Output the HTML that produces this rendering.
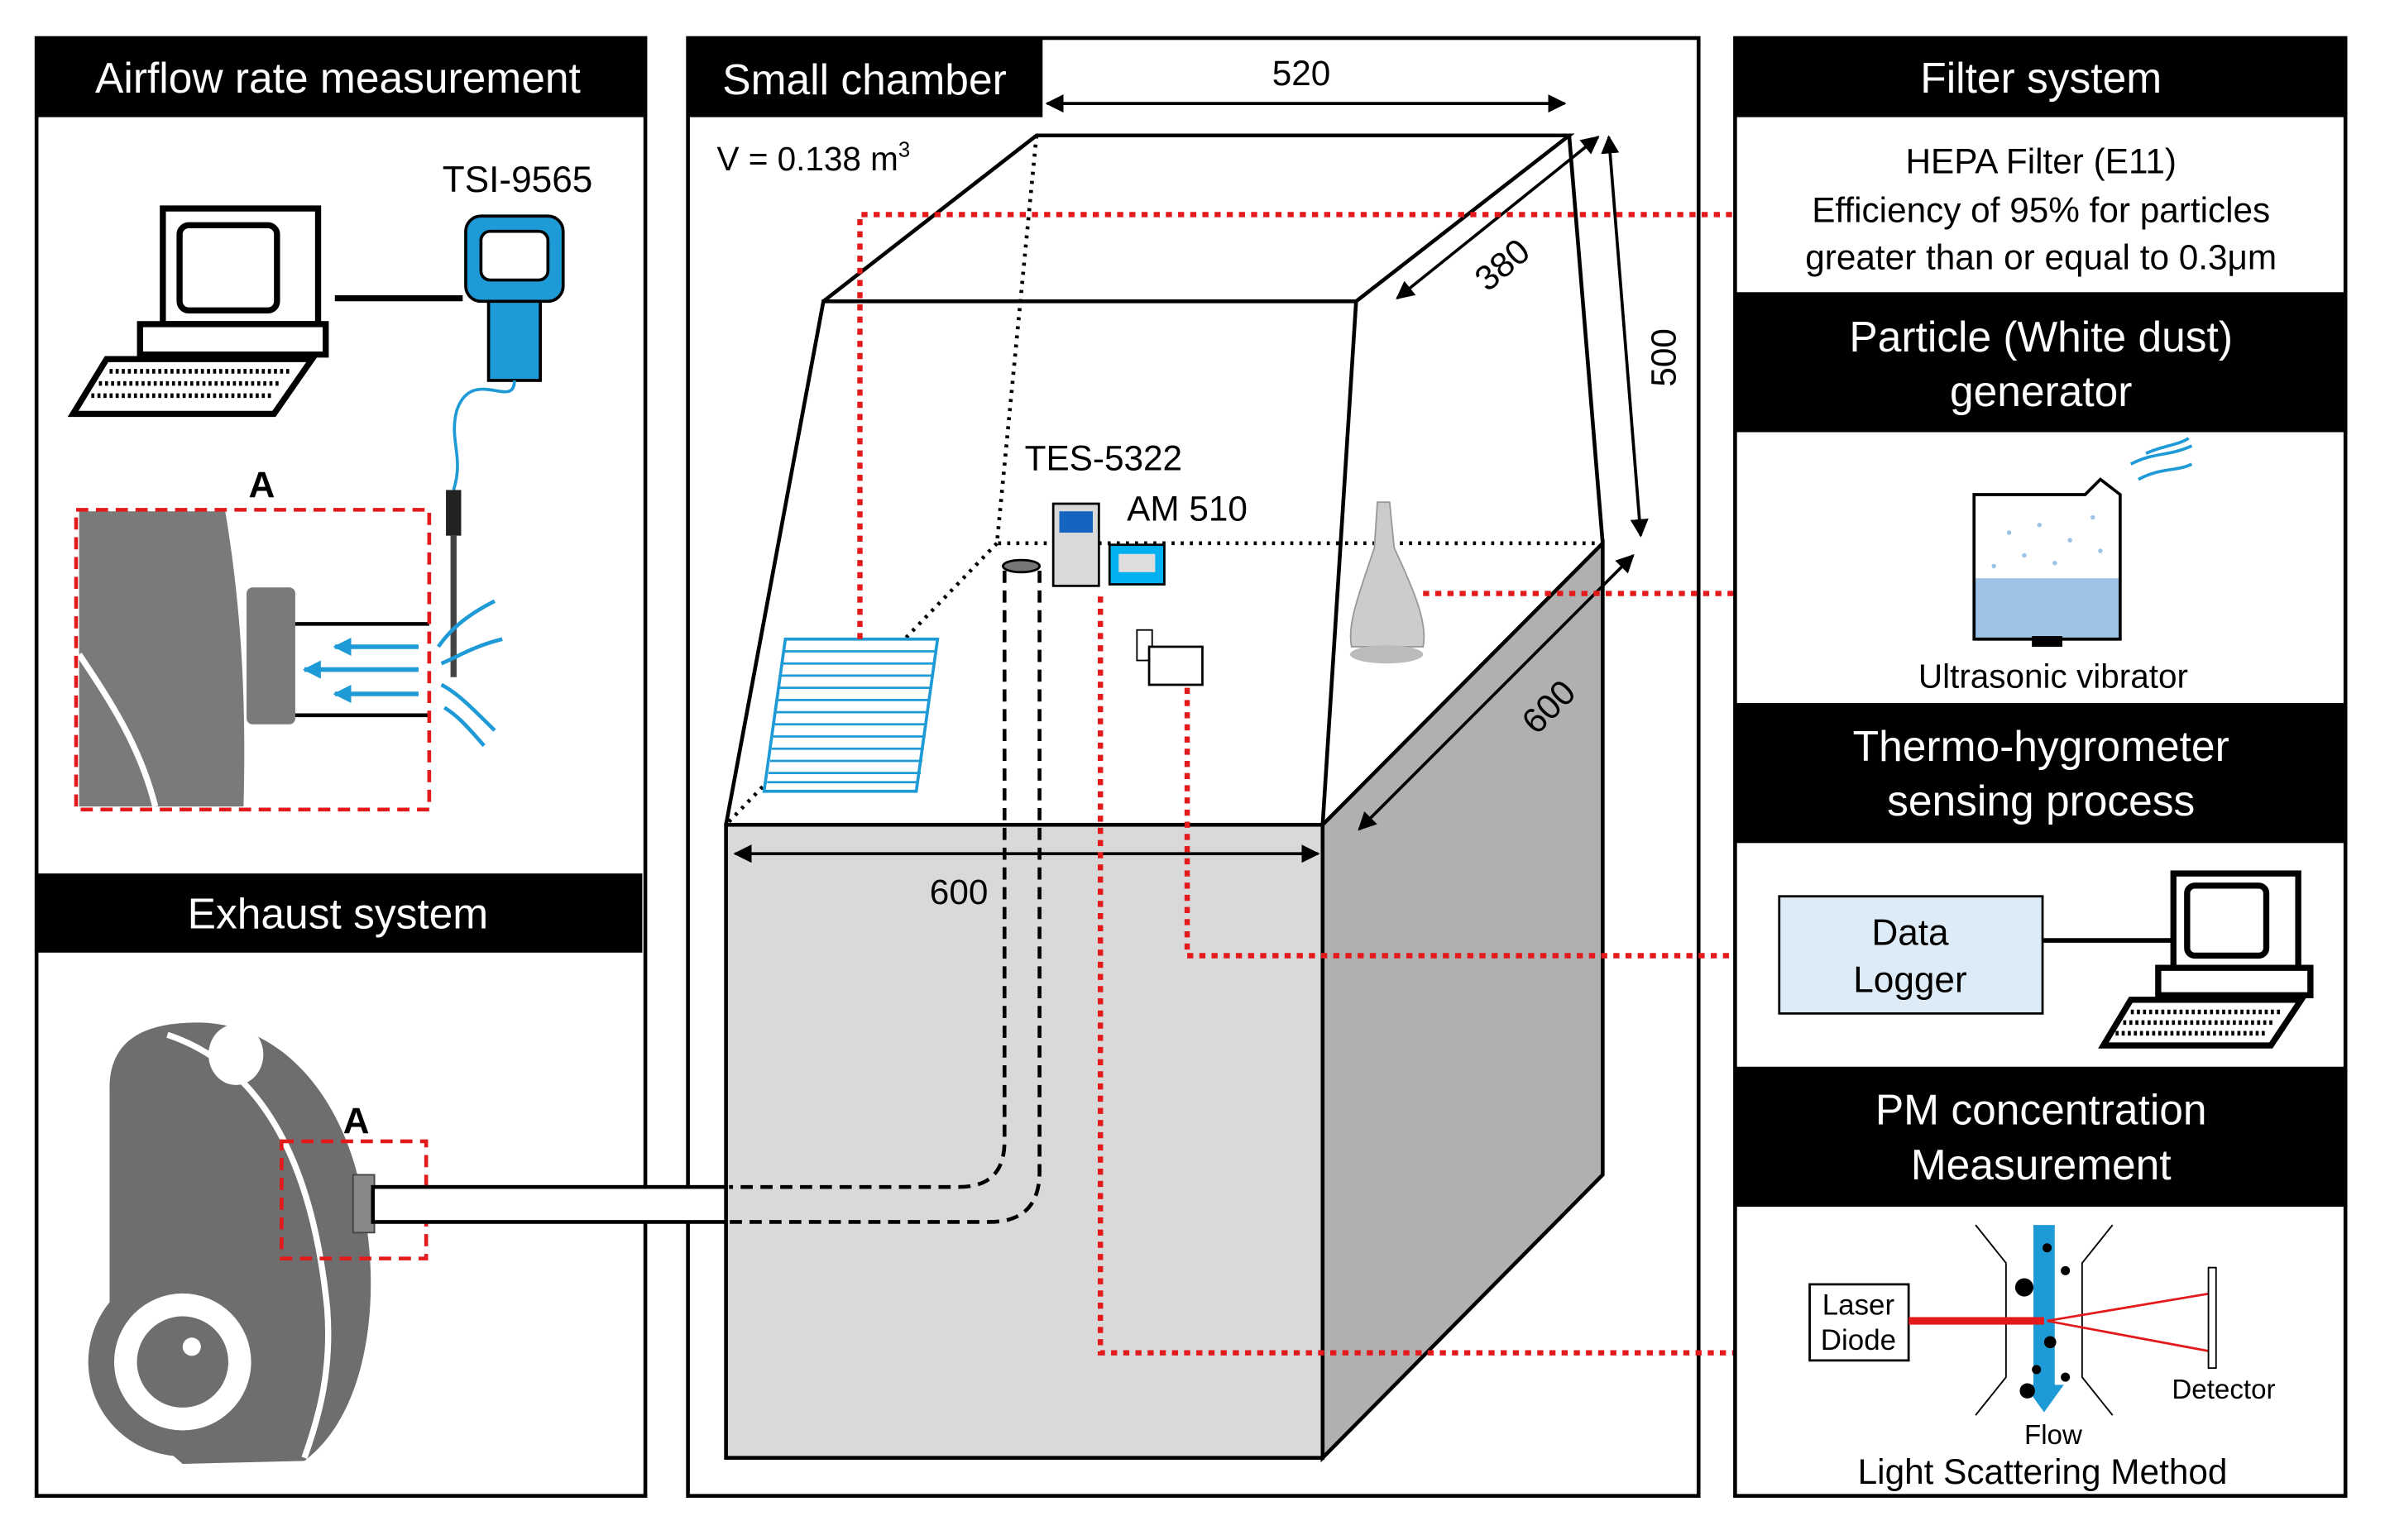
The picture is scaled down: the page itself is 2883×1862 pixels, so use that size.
<!DOCTYPE html>
<html><head><meta charset="utf-8"><style>
html,body{margin:0;padding:0;background:#fff}
svg{display:block}
text{font-family:"Liberation Sans",sans-serif}
</style></head><body>
<svg width="2883" height="1862" viewBox="0 0 1567 1012" preserveAspectRatio="none" xmlns="http://www.w3.org/2000/svg">
<defs>
<marker id="ar" viewBox="0 0 10 10" refX="9" refY="5" markerWidth="6" markerHeight="6" orient="auto-start-reverse"><path d="M0,0L10,5L0,10z" fill="#000"/></marker>
<marker id="ab" viewBox="0 0 10 10" refX="9" refY="5" markerWidth="4" markerHeight="4" orient="auto"><path d="M0,0L10,5L0,10z" fill="#1e9ad6"/></marker>
</defs>
<rect width="1567" height="1012" fill="#fff"/>
<!-- LEFT PANEL -->
<rect x="24" y="25" width="400" height="958" fill="#fff" stroke="#000" stroke-width="2.5"/>
<rect x="24" y="25" width="400" height="52" fill="#000"/>
<text x="222" y="61" font-size="28" fill="#fff" text-anchor="middle">Airflow rate measurement</text>
<rect x="24" y="574" width="398" height="52" fill="#000"/>
<text x="222" y="610" font-size="28" fill="#fff" text-anchor="middle">Exhaust system</text>
<!-- computer -->
<g stroke="#000" stroke-width="4" fill="#fff">
<rect x="107" y="137" width="102" height="76"/>
<rect x="118" y="148" width="64" height="56" rx="6"/>
<rect x="92" y="213" width="122" height="20"/>
<polygon points="70,236 205,236 180,272 48,272"/>
</g>
<path d="M72,244h120M65,252h120M60,260h120" stroke="#000" stroke-width="3" stroke-dasharray="2 2"/>
<line x1="220" y1="196" x2="304" y2="196" stroke="#000" stroke-width="4"/>
<text x="340" y="126" font-size="24" text-anchor="middle">TSI-9565</text>
<rect x="306" y="142" width="64" height="56" rx="10" fill="#1e9ad6" stroke="#000" stroke-width="2"/>
<rect x="316" y="152" width="44" height="32" rx="6" fill="#fff" stroke="#000" stroke-width="2"/>
<rect x="321" y="198" width="34" height="52" fill="#1e9ad6" stroke="#000" stroke-width="2"/>
<path d="M338,250 C338,270 310,240 300,270 C295,290 305,300 298,322" stroke="#1e9ad6" stroke-width="2" fill="none"/>
<rect x="293" y="322" width="10" height="30" fill="#222"/>
<line x1="298" y1="352" x2="298" y2="445" stroke="#444" stroke-width="4"/>
<text x="172" y="327" font-size="24" font-weight="bold" text-anchor="middle">A</text>
<path d="M52,336h96c10,60 14,120 12,194H52z" fill="#7a7a7a"/>
<path d="M52,430c20,30 40,60 50,100" stroke="#fff" stroke-width="4" fill="none"/>
<rect x="162" y="386" width="32" height="90" rx="4" fill="#7a7a7a"/>
<line x1="194" y1="410" x2="282" y2="410" stroke="#000" stroke-width="2.5"/>
<line x1="194" y1="470" x2="282" y2="470" stroke="#000" stroke-width="2.5"/>
<g stroke="#1e9ad6" stroke-width="3" marker-end="url(#ab)">
<line x1="275" y1="425" x2="220" y2="425"/><line x1="275" y1="440" x2="200" y2="440"/><line x1="275" y1="456" x2="220" y2="456"/>
</g>
<g stroke="#1e9ad6" stroke-width="2.5" fill="none">
<path d="M325,395 C305,405 295,415 288,425"/><path d="M330,420 C310,425 300,432 290,436"/><path d="M325,480 C310,465 300,455 290,450"/><path d="M318,490 C305,475 300,470 292,465"/>
</g>
<rect x="50" y="335" width="232" height="197" fill="none" stroke="#e31a1c" stroke-width="2.5" stroke-dasharray="8 5"/>
<!-- vacuum -->
<path d="M72,715 C72,680 100,672 130,672 C190,672 232,730 240,800 C250,860 240,930 200,960 L120,962 L72,920z" fill="#6e6e6e"/>
<path d="M110,680 C170,700 205,760 215,860 C218,900 210,930 200,958" stroke="#fff" stroke-width="4" fill="none"/>
<ellipse cx="155" cy="693" rx="18" ry="20" fill="#fff"/>
<circle cx="120" cy="895" r="62" fill="#6e6e6e"/>
<circle cx="120" cy="895" r="45" fill="#fff"/>
<circle cx="120" cy="895" r="30" fill="#6e6e6e"/>
<circle cx="126" cy="885" r="6" fill="#fff"/>
<rect x="232" y="772" width="14" height="38" fill="#888" stroke="#444"/>
<text x="234" y="745" font-size="24" font-weight="bold" text-anchor="middle">A</text>
<rect x="185" y="750" width="95" height="77" fill="none" stroke="#e31a1c" stroke-width="2.5" stroke-dasharray="8 5"/>
<!-- MIDDLE PANEL -->
<rect x="452" y="25" width="664" height="958" fill="#fff" stroke="#000" stroke-width="2.5"/>
<rect x="452" y="25" width="233" height="52" fill="#000"/>
<text x="568" y="62" font-size="28" fill="#fff" text-anchor="middle">Small chamber</text>
<text x="471" y="112" font-size="22">V = 0.138 m<tspan font-size="14" dy="-9">3</tspan></text>
<!-- tube -->
<rect x="245" y="780" width="234" height="23" fill="#fff" stroke="#000" stroke-width="2.5"/>
<!-- box -->
<rect x="477" y="542" width="392" height="416" fill="#d9d9d9" stroke="#000" stroke-width="2.5"/>
<polygon points="869,542 1053,357 1053,772 869,958" fill="#b0b0b0" stroke="#000" stroke-width="2.5"/>
<g stroke="#000" stroke-width="2.5" fill="none">
<path d="M477,542 L541,198 L891,198 L869,542"/>
<path d="M541,198 L681,89 L1031,89 L891,198"/>
<path d="M1031,89 L1053,357"/>
</g>
<g stroke="#000" stroke-width="2.5" stroke-dasharray="2 4" fill="none">
<path d="M681,89 L655,357 L1053,357"/><path d="M655,357 L477,542"/>
</g>
<!-- dashed inner tube -->
<g stroke="#000" stroke-width="2.5" stroke-dasharray="8 5" fill="none">
<path d="M660,375 V750 Q660,780 630,780 H479"/>
<path d="M683,375 V770 Q683,803 650,803 H479"/>
</g>
<ellipse cx="671" cy="372" rx="12" ry="4" fill="#777" stroke="#000" stroke-width="1.5"/>
<!-- dimension arrows -->
<g stroke="#000" stroke-width="2" marker-end="url(#ar)" marker-start="url(#ar)">
<line x1="688" y1="68" x2="1028" y2="68"/>
<line x1="1050" y1="90" x2="918" y2="196"/>
<line x1="1057" y1="90" x2="1078" y2="352"/>
<line x1="1073" y1="365" x2="893" y2="545"/>
<line x1="483" y1="561" x2="866" y2="561"/>
</g>
<text x="855" y="56" font-size="23" text-anchor="middle">520</text>
<text x="630" y="594" font-size="23" text-anchor="middle">600</text>
<text transform="translate(992,180) rotate(-40)" font-size="23" text-anchor="middle">380</text>
<text transform="translate(1101,235) rotate(-90)" font-size="23" text-anchor="middle">500</text>
<text transform="translate(1023,470) rotate(-45)" font-size="23" text-anchor="middle">600</text>
<!-- filter -->
<polygon points="516,420 616,420 602,520 502,520" fill="#fff" stroke="#1e9ad6" stroke-width="2"/>
<g stroke="#1e9ad6" stroke-width="1.5"><path d="M515,428h100M514,436h100M513,444h100M512,452h100M511,460h100M510,468h100M509,476h100M508,484h100M507,492h100M506,500h100M505,508h100M504,514h99"/></g>
<!-- instruments -->
<text x="725" y="309" font-size="23" text-anchor="middle">TES-5322</text>
<text x="780" y="342" font-size="23" text-anchor="middle">AM 510</text>
<rect x="692" y="331" width="30" height="54" fill="#d9d9d9" stroke="#000" stroke-width="1.5"/>
<rect x="696" y="336" width="22" height="14" fill="#1565c0"/>
<rect x="729" y="358" width="36" height="26" fill="#00b0f0" stroke="#000" stroke-width="1.5"/>
<rect x="735" y="364" width="24" height="12" fill="#ddd"/>
<rect x="747" y="414" width="10" height="20" fill="#fff" stroke="#000"/>
<rect x="755" y="425" width="35" height="25" fill="#fff" stroke="#000" stroke-width="1.5"/>
<!-- humidifier -->
<path d="M905,330 L913,330 L916,360 C930,390 938,410 935,425 L888,425 C885,410 893,390 903,360z" fill="#ccc" stroke="#999"/>
<ellipse cx="911" cy="430" rx="24" ry="6" fill="#bbb"/>
<!-- red dotted -->
<g stroke="#e31a1c" stroke-width="3.5" stroke-dasharray="4 4" fill="none">
<path d="M565,420 V141 H1140"/>
<path d="M935,390 H1140"/>
<path d="M780,452 V628 H1140"/>
<path d="M723,392 V889 H1140"/>
</g>
<!-- RIGHT PANEL -->
<rect x="1140" y="25" width="401" height="958" fill="#fff" stroke="#000" stroke-width="2.5"/>
<rect x="1140" y="25" width="401" height="52" fill="#000"/>
<text x="1341" y="61" font-size="28" fill="#fff" text-anchor="middle">Filter system</text>
<text x="1341" y="114" font-size="23" text-anchor="middle">HEPA Filter (E11)</text>
<text x="1341" y="146" font-size="23" text-anchor="middle">Efficiency of 95% for particles</text>
<text x="1341" y="177" font-size="23" text-anchor="middle">greater than or equal to 0.3μm</text>
<rect x="1140" y="192" width="401" height="92" fill="#000"/>
<text x="1341" y="231" font-size="28" fill="#fff" text-anchor="middle">Particle (White dust)</text>
<text x="1341" y="267" font-size="28" fill="#fff" text-anchor="middle">generator</text>
<rect x="1297" y="380" width="96" height="40" fill="#9dc3e6"/>
<path d="M1297,325 H1370 L1380,315 L1393,325 V420 H1297z" fill="none" stroke="#000" stroke-width="2"/>
<rect x="1335" y="418" width="20" height="7" fill="#000"/>
<g stroke="#1e9ad6" stroke-width="2" fill="none"><path d="M1400,305c15,-8 25,-5 40,-12M1405,315c15,-8 25,-5 35,-10M1410,298c10,-5 20,-5 28,-10"/></g>
<g fill="#9dc3e6"><circle cx="1320" cy="350" r="1.5"/><circle cx="1340" cy="345" r="1.5"/><circle cx="1360" cy="355" r="1.5"/><circle cx="1330" cy="365" r="1.5"/><circle cx="1375" cy="340" r="1.5"/><circle cx="1350" cy="370" r="1.5"/><circle cx="1310" cy="372" r="1.5"/><circle cx="1380" cy="362" r="1.5"/></g>
<text x="1349" y="452" font-size="22" text-anchor="middle">Ultrasonic vibrator</text>
<rect x="1140" y="462" width="401" height="92" fill="#000"/>
<text x="1341" y="500" font-size="28" fill="#fff" text-anchor="middle">Thermo-hygrometer</text>
<text x="1341" y="536" font-size="28" fill="#fff" text-anchor="middle">sensing process</text>
<rect x="1169" y="589" width="173" height="77" fill="#ddebf7" stroke="#000" stroke-width="1.5"/>
<text x="1255" y="621" font-size="24" text-anchor="middle">Data</text>
<text x="1255" y="652" font-size="24" text-anchor="middle">Logger</text>
<line x1="1342" y1="618" x2="1430" y2="618" stroke="#000" stroke-width="3"/>
<g stroke="#000" stroke-width="4" fill="#fff">
<rect x="1428" y="574" width="82" height="62"/>
<rect x="1437" y="582" width="52" height="46" rx="5"/>
<rect x="1418" y="636" width="100" height="18"/>
<polygon points="1400,657 1512,657 1492,687 1382,687"/>
</g>
<path d="M1400,665h100M1395,672h100M1390,679h100" stroke="#000" stroke-width="3" stroke-dasharray="2 2"/>
<rect x="1140" y="701" width="401" height="92" fill="#000"/>
<text x="1341" y="739" font-size="28" fill="#fff" text-anchor="middle">PM concentration</text>
<text x="1341" y="775" font-size="28" fill="#fff" text-anchor="middle">Measurement</text>
<rect x="1189" y="844" width="65" height="50" fill="#fff" stroke="#000" stroke-width="1.5"/>
<text x="1221" y="864" font-size="19" text-anchor="middle">Laser</text>
<text x="1221" y="887" font-size="19" text-anchor="middle">Diode</text>
<g stroke="#000" stroke-width="1" fill="none"><path d="M1298,805 L1318,830 V905 L1298,930M1388,805 L1368,830 V905 L1388,930"/></g>
<polygon points="1336,805 1350,805 1350,910 1356,910 1343,928 1330,910 1336,910" fill="#1e9ad6"/>
<line x1="1254" y1="868" x2="1343" y2="868" stroke="#e31a1c" stroke-width="5"/>
<g stroke="#e31a1c" stroke-width="1.5"><line x1="1345" y1="868" x2="1452" y2="850"/><line x1="1345" y1="868" x2="1452" y2="888"/></g>
<rect x="1451" y="833" width="5" height="66" fill="#fff" stroke="#000"/>
<g fill="#000"><circle cx="1330" cy="846" r="6"/><circle cx="1345" cy="820" r="3"/><circle cx="1357" cy="835" r="3"/><circle cx="1347" cy="882" r="4"/><circle cx="1338" cy="900" r="3"/><circle cx="1332" cy="914" r="5"/><circle cx="1357" cy="905" r="3"/></g>
<text x="1461" y="919" font-size="18" text-anchor="middle">Detector</text>
<text x="1349" y="949" font-size="18" text-anchor="middle">Flow</text>
<text x="1342" y="975" font-size="23" text-anchor="middle">Light Scattering Method</text>
</svg>
</body></html>
